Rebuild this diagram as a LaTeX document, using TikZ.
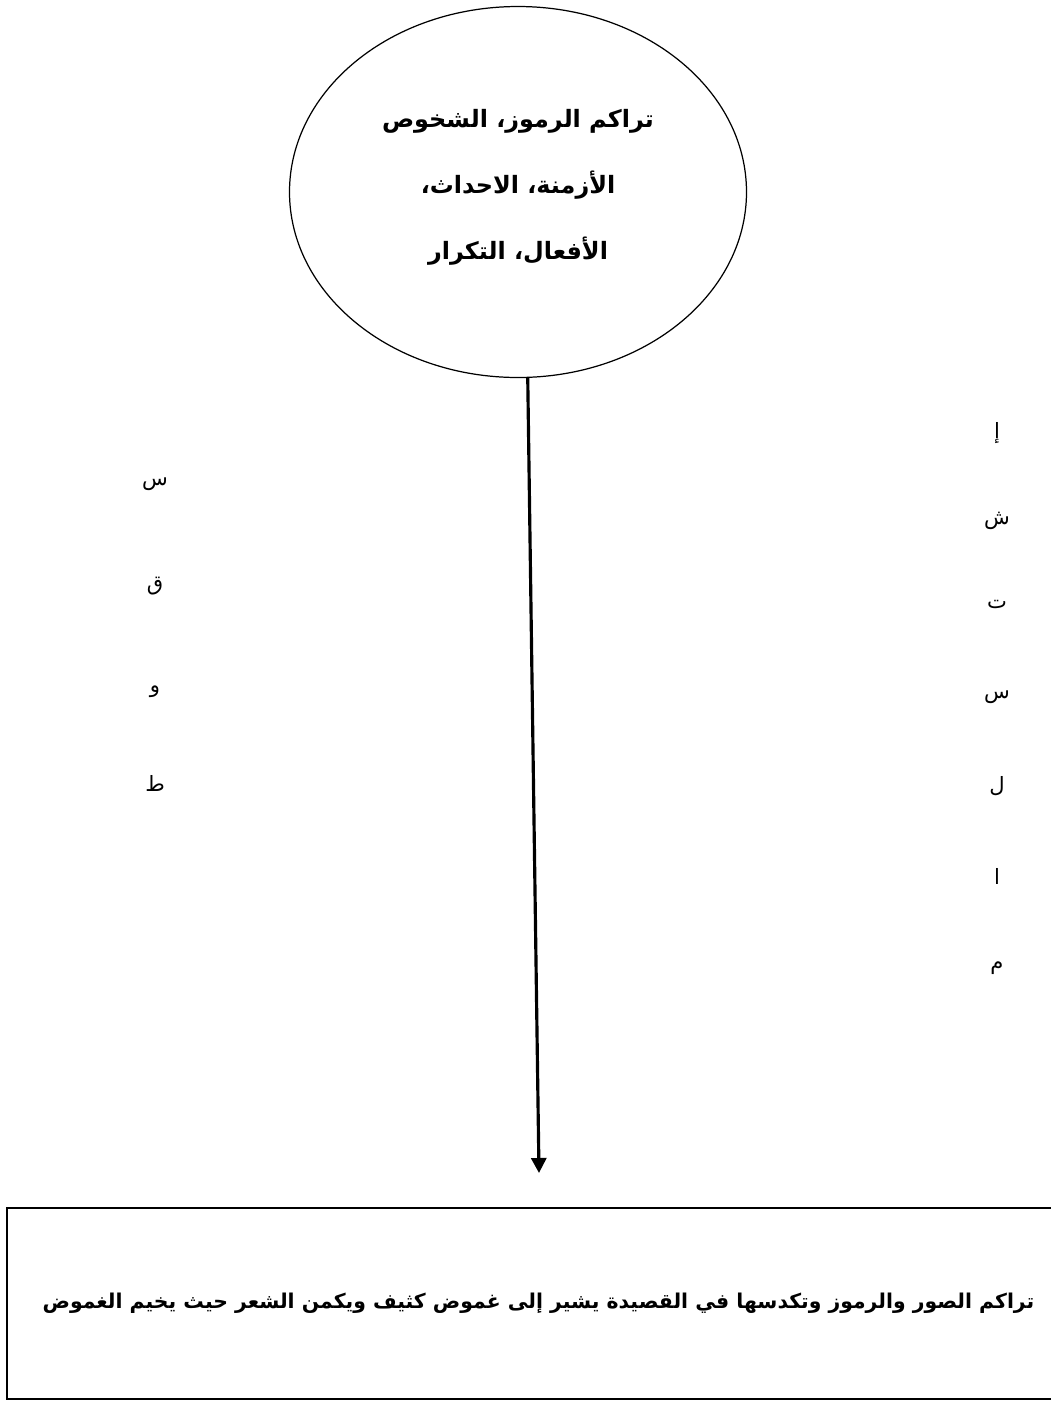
\documentclass[tikz,border=0pt]{standalone}
\usepackage{fontspec}
\setmainfont{DejaVu Sans}
\newfontfamily\arabicfont[Script=Arabic]{DejaVu Sans}
\TeXXeTstate=1
\usetikzlibrary{arrows.meta,shapes.geometric}

\begin{document}
\begin{tikzpicture}[x=0.2mm,y=-0.2mm,>={Stealth[inset=0pt,length=3mm,width=3mm]},font=\arabicfont]
\tikzstyle{oval}=[draw,ellipse,line width=0.7pt,minimum width=91.4mm,minimum height=74.2mm,inner sep=0pt,align=center,text depth=9pt,font=\arabicfont\bfseries\fontsize{13.6}{37.5}\selectfont]
\tikzstyle{result}=[draw,line width=1.1pt,minimum width=212.6mm,minimum height=38.2mm,inner sep=0pt,font=\arabicfont\bfseries\fontsize{11.6}{14}\selectfont]
\tikzstyle{letter}=[inner sep=0pt,font=\arabicfont\fontsize{12}{14}\selectfont]
\useasboundingbox (0,0) rectangle (1051,1401);
\node[oval] (cloud) at (518,192) {\beginR تراكم الرموز، الشخوص\endR\\ \beginR الأزمنة، الاحداث،\endR\\ \beginR الأفعال، التكرار\endR};
\node[result] (concl) at (538.5,1303.5) {\beginR تراكم الصور والرموز وتكدسها في القصيدة يشير إلى غموض كثيف ويكمن الشعر حيث يخيم الغموض\endR};
\coordinate (tip) at (539,1173);
\draw[->,line width=1.8pt] (cloud.273) -- (tip);
% vertical words
\foreach \ch/\yy [count=\i] in {س/484,ق/586,و/692,ط/783}
  \node[letter] (left\i) at (155,\yy) {\ch};
\foreach \ch/\yy [count=\i] in {إ/433,ش/521,ت/604,س/697,ل/786,ا/876,م/968}
  \node[letter] (right\i) at (997,\yy) {\ch};
\end{tikzpicture}
\end{document}
